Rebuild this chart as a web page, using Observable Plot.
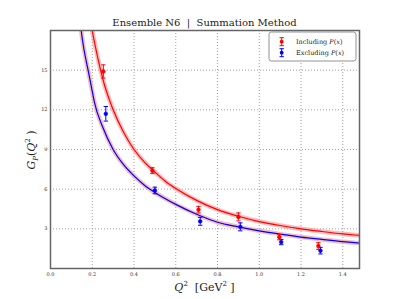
<!DOCTYPE html>
<html><head><meta charset="utf-8">
<script src="https://cdn.jsdelivr.net/npm/d3@7"></script>
<script src="https://cdn.jsdelivr.net/npm/@observablehq/plot@0.6"></script>
<style>
body{margin:0;background:#fff;}
#wrap{width:399px;height:299px;}
</style></head><body><div id="wrap"></div>
<script>
const title = "Ensemble N6  |  Summation Method";
const seriesNames = ["Including", "Excluding"];
const seriesColors = ["#ff0000", "#0000ff"];

// data points (Q^2, G_P, error)
const incQ = [0.253, 0.488, 0.709, 0.900, 1.096, 1.283];
const incG = [14.9, 7.4, 4.45, 3.9, 2.37, 1.7];
const incErr = [0.5, 0.22, 0.25, 0.3, 0.2, 0.25];
const excQ = [0.265, 0.500, 0.717, 0.909, 1.105, 1.293];
const excG = [11.7, 5.9, 3.57, 3.15, 2.0, 1.35];
const excErr = [0.55, 0.25, 0.3, 0.3, 0.2, 0.25];

// fit curves
const fitIncQ = [0.19, 0.2, 0.22, 0.24, 0.26, 0.28, 0.3, 0.35, 0.4, 0.45, 0.5, 0.55, 0.6, 0.7, 0.8, 0.9, 1.0, 1.1, 1.2, 1.3, 1.4, 1.48];
const fitIncG = [19.0, 18.0, 16.4, 15.0, 13.8, 12.85, 12.0, 10.3, 9.0, 8.05, 7.3, 6.6, 6.05, 5.15, 4.45, 3.95, 3.55, 3.25, 3.0, 2.8, 2.62, 2.5];
const fitExcQ = [0.14, 0.147, 0.16, 0.18, 0.2, 0.21, 0.25, 0.3, 0.35, 0.4, 0.45, 0.5, 0.6, 0.7, 0.8, 0.9, 1.0, 1.1, 1.2, 1.3, 1.4, 1.48];
const fitExcG = [19.0, 18.0, 16.6, 15.0, 13.4, 12.6, 10.7, 9.0, 7.85, 7.0, 6.3, 5.75, 4.85, 4.1, 3.5, 3.15, 2.85, 2.6, 2.38, 2.2, 2.03, 1.92];

const xTicks = [0.0, 0.2, 0.4, 0.6, 0.8, 1.0, 1.2, 1.4];
const yTicks = [3, 6, 9, 12, 15];

const pts = [
  ...incQ.map((q, i) => ({s: 0, q, g: incG[i], e: incErr[i]})),
  ...excQ.map((q, i) => ({s: 1, q, g: excG[i], e: excErr[i]}))
];
const fits = [
  ...fitIncQ.map((q, i) => ({s: 0, q, g: fitIncG[i]})),
  ...fitExcQ.map((q, i) => ({s: 1, q, g: fitExcG[i]}))
];

const capSymbol = {draw(ctx, size) { const w = Math.sqrt(size); ctx.moveTo(-w / 2, 0); ctx.lineTo(w / 2, 0); }};
const col = d => seriesColors[d.s];

const chart = Plot.plot({
  width: 399, height: 299,
  marginLeft: 50, marginRight: 40, marginTop: 30, marginBottom: 31,
  style: {fontFamily: "DejaVu Serif", fontSize: "5px", color: "#333", background: "#fff"},
  x: {domain: [0, 1.48], ticks: xTicks, tickFormat: d3.format(".1f"), tickSize: 0, tickPadding: 4, label: null},
  y: {domain: [0, 18], ticks: yTicks, tickSize: 0, tickPadding: 3, label: null},
  marks: [
    Plot.ruleX(xTicks.filter(t => t > 0), {stroke: "#888", strokeDasharray: "1,2", strokeWidth: 0.8}),
    Plot.ruleY(yTicks, {stroke: "#888", strokeDasharray: "1,2", strokeWidth: 0.8}),
    Plot.line(fits, {x: "q", y: "g", z: "s", stroke: "#f5a3a3", strokeWidth: 4.5, strokeOpacity: 0.7, curve: "monotone-x", clip: true}),
    Plot.line(fits, {x: "q", y: "g", z: "s", stroke: col, strokeWidth: 1.2, curve: "monotone-x", clip: true}),
    Plot.ruleX(pts, {x: "q", y1: d => d.g - d.e, y2: d => d.g + d.e, stroke: col, strokeWidth: 1}),
    Plot.dot(pts, {x: "q", y: d => d.g + d.e, symbol: capSymbol, r: 2.5, stroke: col, strokeWidth: 1}),
    Plot.dot(pts, {x: "q", y: d => d.g - d.e, symbol: capSymbol, r: 2.5, stroke: col, strokeWidth: 1}),
    Plot.dot(pts, {x: "q", y: "g", r: 1.9, fill: col, stroke: col, strokeWidth: 0.5}),
    Plot.frame({stroke: "#666", strokeWidth: 1.5})
  ]
});
document.getElementById("wrap").appendChild(chart);

const svg = d3.select(chart);
const serif = "DejaVu Serif";
// title
svg.append("text").attr("x", 204.5).attr("y", 26).attr("text-anchor", "middle")
  .attr("font-family", serif).attr("font-size", 10).attr("fill", "#222").text(title);

// x label
const xl = svg.append("text").attr("x", 204.5).attr("y", 291).attr("text-anchor", "middle")
  .attr("font-family", serif).attr("font-size", 11).attr("fill", "#222");
xl.append("tspan").attr("font-style", "italic").text("Q");
xl.append("tspan").attr("font-size", 7).attr("dy", -5).text("2");
xl.append("tspan").attr("dy", 5).text("  [GeV");
xl.append("tspan").attr("font-size", 7).attr("dy", -5).text("2");
xl.append("tspan").attr("dy", 5).text(" ]");

// y label
const yl = svg.append("text").attr("transform", "translate(35,150) rotate(-90)").attr("text-anchor", "middle")
  .attr("font-family", serif).attr("font-size", 11).attr("fill", "#222");
yl.append("tspan").attr("font-style", "italic").text("G");
yl.append("tspan").attr("font-style", "italic").attr("font-size", 7).attr("dy", 3).text("P");
yl.append("tspan").attr("dy", -3).text("(");
yl.append("tspan").attr("font-style", "italic").text("Q");
yl.append("tspan").attr("font-size", 7).attr("dy", -5).text("2");
yl.append("tspan").attr("dy", 5).text(" )");

// legend
const lg = svg.append("g");
lg.append("rect").attr("x", 269).attr("y", 32).attr("width", 87).attr("height", 29).attr("rx", 2.5)
  .attr("fill", "#fff").attr("stroke", "#777").attr("stroke-width", 0.8);
seriesNames.forEach((name, i) => {
  const cy = 41.7 + i * 11, cx = 281.7, c = seriesColors[i];
  lg.append("line").attr("x1", cx).attr("x2", cx).attr("y1", cy - 4).attr("y2", cy + 4).attr("stroke", c).attr("stroke-width", 1);
  lg.append("line").attr("x1", cx - 2.2).attr("x2", cx + 2.2).attr("y1", cy - 4).attr("y2", cy - 4).attr("stroke", c).attr("stroke-width", 1);
  lg.append("line").attr("x1", cx - 2.2).attr("x2", cx + 2.2).attr("y1", cy + 4).attr("y2", cy + 4).attr("stroke", c).attr("stroke-width", 1);
  lg.append("circle").attr("cx", cx).attr("cy", cy).attr("r", 1.9).attr("fill", c);
  const t = lg.append("text").attr("x", 296).attr("y", cy + 2.5).attr("text-anchor", "start")
    .attr("font-family", serif).attr("font-size", 6.5).attr("fill", "#222");
  t.append("tspan").text(name + " ");
  t.append("tspan").attr("font-style", "italic").text("P");
  t.append("tspan").text("(");
  t.append("tspan").attr("font-style", "italic").text("x");
  t.append("tspan").text(")");
});
</script></body></html>
